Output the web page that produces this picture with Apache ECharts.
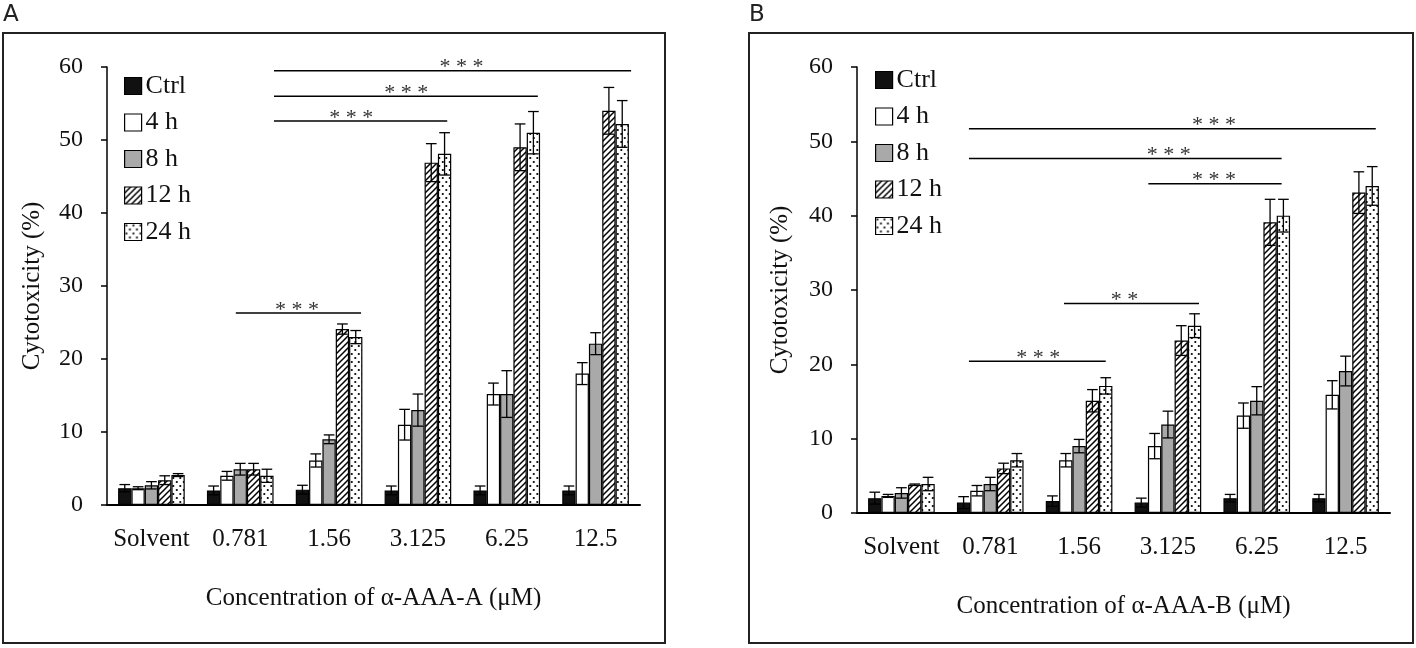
<!DOCTYPE html>
<html>
<head>
  <meta charset="utf-8">
  <title>Cytotoxicity</title>
  <script src="https://cdn.jsdelivr.net/npm/echarts@6/dist/echarts.min.js"></script>
  <style>
    html, body { margin: 0; padding: 0; background: #fff; }
    #main { width: 1416px; height: 648px; }
  </style>
</head>
<body>
  <div id="main"></div>
  <script>
    // categories and series
    var categories = ['Solvent', '0.781', '1.56', '3.125', '6.25', '12.5'];
    var seriesNames = ['Ctrl', '4 h', '8 h', '12 h', '24 h'];
    var yTicks = [0, 10, 20, 30, 40, 50, 60];

    // panel A: mean and error, one row per series (Ctrl, 4 h, 8 h, 12 h, 24 h)
    var meanA = [
      [2.3, 2.0, 2.1, 2.0, 2.0, 2.0],
      [2.3, 4.0, 6.1, 11.0, 15.2, 18.0],
      [2.7, 4.9, 9.0, 13.0, 15.2, 22.1],
      [3.4, 4.9, 24.1, 46.9, 49.0, 54.0],
      [4.1, 4.0, 23.0, 48.1, 51.0, 52.2]
    ];
    var errA = [
      [0.5, 0.6, 0.6, 0.6, 0.6, 0.6],
      [0.2, 0.6, 0.9, 2.1, 1.5, 1.5],
      [0.5, 0.8, 0.6, 2.2, 3.2, 1.5],
      [0.6, 0.8, 0.7, 2.6, 3.2, 3.2],
      [0.2, 0.9, 0.9, 2.9, 2.9, 3.2]
    ];

    // panel B
    var meanB = [
      [2.0, 1.4, 1.6, 1.4, 2.0, 2.0],
      [2.3, 3.0, 7.1, 9.0, 13.1, 15.9],
      [2.7, 3.9, 9.0, 11.9, 15.1, 19.1],
      [3.8, 6.0, 15.1, 23.2, 39.1, 43.1],
      [3.9, 7.1, 17.1, 25.2, 40.0, 44.0]
    ];
    var errB = [
      [0.8, 0.8, 0.7, 0.6, 0.5, 0.5],
      [0.2, 0.7, 0.9, 1.7, 1.7, 1.9],
      [0.7, 0.9, 0.9, 1.8, 1.9, 2.0],
      [0.1, 0.7, 1.5, 2.0, 3.1, 2.8],
      [0.9, 0.9, 1.1, 1.6, 2.2, 2.6]
    ];

    // significance brackets: [from, to, height, label position, label]
    var bracketsA = [
      [1.38, 5.40, 59.5, 3.49, '* * *'],
      [1.38, 4.35, 56.0, 2.87, '* * *'],
      [1.38, 3.33, 52.6, 2.25, '* * *'],
      [0.95, 2.36, 26.3, 1.64, '* * *']
    ];
    var bracketsB = [
      [0.76, 5.34, 51.7, 3.52, '* * *'],
      [0.76, 4.28, 47.7, 3.01, '* * *'],
      [2.78, 4.28, 44.3, 3.52, '* * *'],
      [1.83, 3.35, 28.2, 2.51, '* *'],
      [0.76, 2.30, 20.4, 1.54, '* * *']
    ];

    var serif = '"Liberation Serif", "Times New Roman", serif';

    // fill patterns
    function makePattern(kind) {
      var c = document.createElement('canvas');
      var ctx = c.getContext('2d');
      if (kind === 'hatch') {
        c.width = 6; c.height = 6;
        ctx.fillStyle = '#fff';
        ctx.fillRect(0, 0, 6, 6);
        ctx.strokeStyle = '#000';
        ctx.lineWidth = 1.5;
        ctx.beginPath();
        ctx.moveTo(-1, 7); ctx.lineTo(7, -1);
        ctx.moveTo(-4, 4); ctx.lineTo(4, -4);
        ctx.moveTo(2, 10); ctx.lineTo(10, 2);
        ctx.stroke();
      } else {
        c.width = 7; c.height = 8;
        ctx.fillStyle = '#fff';
        ctx.fillRect(0, 0, 7, 8);
        ctx.fillStyle = '#000';
        ctx.beginPath(); ctx.arc(1.8, 2, 1.1, 0, Math.PI * 2); ctx.fill();
        ctx.beginPath(); ctx.arc(5.3, 6, 1.1, 0, Math.PI * 2); ctx.fill();
      }
      return { image: c, repeat: 'repeat' };
    }

    var fills = ['#111111', '#ffffff', '#a9a9a9', makePattern('hatch'), makePattern('dots')];

    var myChart = echarts.init(document.getElementById('main'));

    var grids = [
      { left: 107, right: 776, top: 67, bottom: 143 },
      { left: 857, right: 26, top: 67, bottom: 135 }
    ];
    var titles = ['Concentration of α-AAA-A (μM)', 'Concentration of α-AAA-B (μM)'];

    var xAxes = [], yAxes = [], series = [];

    [0, 1].forEach(function (p) {
      var mean = p === 0 ? meanA : meanB;
      var err = p === 0 ? errA : errB;
      var brackets = p === 0 ? bracketsA : bracketsB;

      xAxes.push({
        type: 'category',
        gridIndex: p,
        data: categories,
        axisLine: { onZero: false, lineStyle: { color: '#000', width: 2 } },
        axisTick: { show: false },
        axisLabel: { interval: 0, color: '#111', fontFamily: serif, fontSize: 25, margin: 22 },
        name: titles[p],
        nameLocation: 'middle',
        nameGap: 81,
        nameTextStyle: { color: '#111', fontFamily: serif, fontSize: 25 }
      });
      // hidden value axis for the bracket lines
      xAxes.push({ type: 'value', gridIndex: p, min: -0.5, max: 5.5, show: false });

      yAxes.push({
        type: 'value',
        gridIndex: p,
        min: yTicks[0],
        max: yTicks[yTicks.length - 1],
        interval: 10,
        axisLine: { show: true, onZero: false, lineStyle: { color: '#000', width: 1.5 } },
        axisTick: { show: true, length: 6, lineStyle: { color: '#000', width: 1.5 } },
        splitLine: { show: false },
        axisLabel: { color: '#111', fontFamily: serif, fontSize: 24, margin: 24 },
        name: 'Cytotoxicity (%)',
        nameLocation: 'middle',
        nameRotate: 90,
        nameGap: p === 0 ? 62 : 64,
        nameTextStyle: { color: '#111', fontFamily: serif, fontSize: 25 }
      });

      seriesNames.forEach(function (name, s) {
        series.push({
          type: 'bar',
          name: name,
          xAxisIndex: p * 2,
          yAxisIndex: p,
          data: mean[s],
          barCategoryGap: '25%',
          barGap: '0%',
          itemStyle: { color: fills[s], borderColor: '#000', borderWidth: 1.2 }
        });
      });

      // error bars
      var errData = [];
      mean.forEach(function (row, s) {
        row.forEach(function (v, c) { errData.push([c, s, v, err[s][c]]); });
      });
      series.push({
        type: 'custom',
        xAxisIndex: p * 2,
        yAxisIndex: p,
        z: 10,
        silent: true,
        data: errData,
        renderItem: function (params, api) {
          var c = api.value(0), s = api.value(1), v = api.value(2), e = api.value(3);
          var band = api.size([1, 0])[0];
          var bw = band * 0.75 / 5;
          var x = api.coord([c, v])[0] - band * 0.375 + bw * (s + 0.5);
          var yHi = api.coord([c, v + e])[1];
          var yLo = api.coord([c, v - e])[1];
          var cap = bw * 0.4;
          var st = { stroke: '#000', lineWidth: 1.3 };
          return {
            type: 'group',
            children: [
              { type: 'line', shape: { x1: x, y1: yLo, x2: x, y2: yHi }, style: st },
              { type: 'line', shape: { x1: x - cap, y1: yHi, x2: x + cap, y2: yHi }, style: st },
              { type: 'line', shape: { x1: x - cap, y1: yLo, x2: x + cap, y2: yLo }, style: st }
            ]
          };
        }
      });

      // significance brackets
      series.push({
        type: 'custom',
        xAxisIndex: p * 2 + 1,
        yAxisIndex: p,
        z: 10,
        silent: true,
        data: brackets,
        renderItem: function (params, api) {
          var b = brackets[params.dataIndex];
          var p1 = api.coord([b[0], b[2]]);
          var p2 = api.coord([b[1], b[2]]);
          var pt = api.coord([b[3], b[2]]);
          return {
            type: 'group',
            children: [
              { type: 'line', shape: { x1: p1[0], y1: p1[1], x2: p2[0], y2: p2[1] },
                style: { stroke: '#000', lineWidth: 1.5 } },
              { type: 'text', style: { text: b[4], x: pt[0], y: pt[1] - 3, align: 'center',
                verticalAlign: 'middle', fontFamily: serif, fontSize: 22, fill: '#333' } }
            ]
          };
        }
      });
    });

    function legendFor(left, top) {
      return {
        orient: 'vertical',
        left: left,
        top: top,
        data: seriesNames,
        icon: 'rect',
        itemWidth: 17,
        itemHeight: 17,
        itemGap: 10.5,
        selectedMode: false,
        itemStyle: { borderColor: '#000', borderWidth: 1.2 },
        textStyle: { color: '#111', fontFamily: serif, fontSize: 26, lineHeight: 26, padding: [0, 0, 0, -1] }
      };
    }

    var option = {
      animation: false,
      backgroundColor: '#fff',
      grid: grids,
      xAxis: xAxes,
      yAxis: yAxes,
      legend: [legendFor(119, 68), legendFor(870, 62)],
      series: series,
      graphic: [
        { type: 'rect', shape: { x: 3, y: 33, width: 662, height: 610 },
          style: { fill: 'none', stroke: '#222', lineWidth: 2 } },
        { type: 'rect', shape: { x: 749, y: 33, width: 664, height: 610 },
          style: { fill: 'none', stroke: '#222', lineWidth: 2 } },
        { type: 'text', left: 3, top: 4,
          style: { text: 'A', fontFamily: '"DejaVu Sans", sans-serif', fontSize: 23, fill: '#222' } },
        { type: 'text', left: 749, top: 4,
          style: { text: 'B', fontFamily: '"DejaVu Sans", sans-serif', fontSize: 23, fill: '#222' } }
      ]
    };

    myChart.setOption(option);
  </script>
</body>
</html>
